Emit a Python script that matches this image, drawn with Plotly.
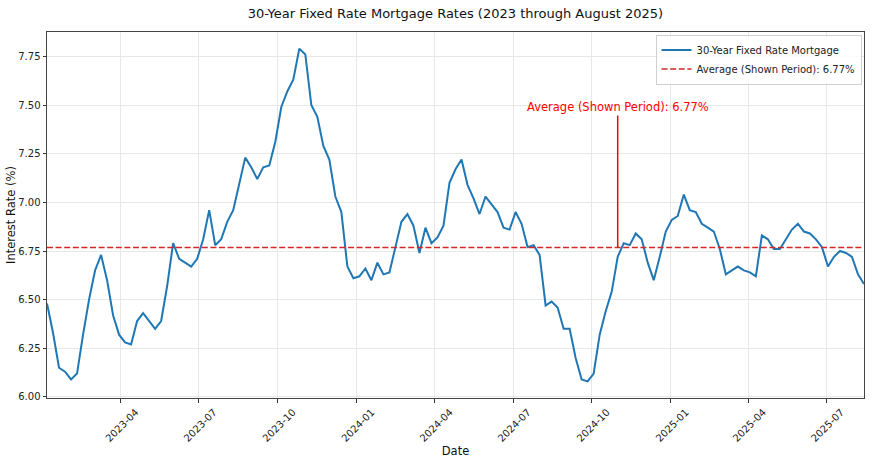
import pandas as pd
import numpy as np
import plotly.graph_objects as go

start_date = "2023-01-05"
rates = [
    # 2023
    6.48, 6.33, 6.15, 6.13, 6.09, 6.12, 6.32, 6.50, 6.65, 6.73, 6.60, 6.42, 6.32,
    6.28, 6.27, 6.39, 6.43, 6.39, 6.35, 6.39, 6.57, 6.79, 6.71, 6.69, 6.67, 6.71,
    6.81, 6.96, 6.78, 6.81, 6.90, 6.96, 7.09, 7.23, 7.18, 7.12, 7.18, 7.19, 7.31,
    7.49, 7.57, 7.63, 7.79, 7.76, 7.50, 7.44, 7.29, 7.22, 7.03, 6.95, 6.67, 6.61,
    # 2024
    6.62, 6.66, 6.60, 6.69, 6.63, 6.64, 6.77, 6.90, 6.94, 6.88, 6.74, 6.87, 6.79,
    6.82, 6.88, 7.10, 7.17, 7.22, 7.09, 7.02, 6.94, 7.03, 6.99, 6.95, 6.87, 6.86,
    6.95, 6.89, 6.77, 6.78, 6.73, 6.47, 6.49, 6.46, 6.35, 6.35, 6.20, 6.09, 6.08,
    6.12, 6.32, 6.44, 6.54, 6.72, 6.79, 6.78, 6.84, 6.81, 6.69, 6.60, 6.72, 6.85,
    # 2025
    6.91, 6.93, 7.04, 6.96, 6.95, 6.89, 6.87, 6.85, 6.76, 6.63, 6.65, 6.67, 6.65,
    6.64, 6.62, 6.83, 6.81, 6.76, 6.76, 6.81, 6.86, 6.89, 6.85, 6.84, 6.81, 6.77,
    6.67, 6.72, 6.75, 6.74, 6.72, 6.63, 6.58,
]
dates = pd.date_range(start_date, periods=len(rates), freq="7D")
date_str = [d.strftime("%Y-%m-%d") for d in dates]

tick_dates = ["2023-04-01", "2023-07-01", "2023-10-01", "2024-01-01", "2024-04-01",
              "2024-07-01", "2024-10-01", "2025-01-01", "2025-04-01", "2025-07-01"]
tick_labels = ["2023-04", "2023-07", "2023-10", "2024-01", "2024-04",
               "2024-07", "2024-10", "2025-01", "2025-04", "2025-07"]
y_ticks = [6.00, 6.25, 6.50, 6.75, 7.00, 7.25, 7.50, 7.75]

avg = float(np.mean(rates))
avg_label = f"Average (Shown Period): {avg:.2f}%"

FONT = "DejaVu Sans"
fig = go.Figure()
fig.add_trace(go.Scatter(
    x=date_str, y=rates, mode="lines", name="30-Year Fixed Rate Mortgage",
    line=dict(color="#1f77b4", width=2),
))
fig.add_trace(go.Scatter(
    x=[date_str[0], date_str[-1]], y=[avg, avg], mode="lines", name=avg_label,
    line=dict(color="#d62728", width=1.5, dash="6px,2.6px"),
))

ann_idx = int(len(rates) * 0.7)
fig.add_annotation(
    x=date_str[ann_idx], y=avg, xref="x", yref="y",
    ax=date_str[ann_idx], ay=7.49, axref="x", ayref="y",
    text=avg_label, showarrow=True, arrowhead=0, arrowwidth=1.5,
    arrowcolor="red", standoff=0,
    font=dict(family=FONT, size=11.5, color="red"),
)

ymin, ymax = min(rates), max(rates)
pad = (ymax - ymin) * 0.05

fig.update_layout(
    width=870, height=461,
    margin=dict(l=47, r=6, t=32, b=63, autoexpand=False),
    paper_bgcolor="white", plot_bgcolor="white",
    font=dict(family=FONT, size=10, color="#222"),
    title=dict(text="30-Year Fixed Rate Mortgage Rates (2023 through August 2025)",
               x=(47 + 864) / 2 / 870, xanchor="center", y=1 - 13 / 461, yanchor="middle",
               font=dict(family=FONT, size=13, color="#111")),
    showlegend=True,
    legend=dict(x=0.997, xanchor="right", y=0.993, yanchor="top",
                bgcolor="rgba(255,255,255,0.85)", bordercolor="#d0d0d0", borderwidth=1,
                font=dict(family=FONT, size=10, color="#222"), itemwidth=30,
                tracegroupgap=0),
)
fig.update_xaxes(
    type="date", range=[date_str[0], date_str[-1]], automargin=False,
    tickvals=tick_dates, ticktext=tick_labels, tickangle=-45,
    ticks="outside", ticklen=3.5, tickcolor="#333", tickwidth=0.8,
    ticklabelshift=15,
    showgrid=True, gridcolor="#e8e8e8", gridwidth=0.8,
    showline=True, linecolor="#444", linewidth=1, mirror=True,
    title=dict(text="Date", font=dict(family=FONT, size=11.5, color="#111"), standoff=0),
    zeroline=False,
)
fig.update_yaxes(
    range=[ymin - pad, ymax + pad], automargin=False,
    tickvals=y_ticks, tickformat=".2f",
    ticks="outside", ticklen=3.5, tickcolor="#333", tickwidth=0.8,
    showgrid=True, gridcolor="#e8e8e8", gridwidth=0.8,
    showline=True, linecolor="#444", linewidth=1, mirror=True,
    title=dict(text="Interest Rate (%)", font=dict(family=FONT, size=11.5, color="#111"), standoff=0),
    zeroline=False,
)

fig.write_html("out.html", config={"displayModeBar": False},
               post_script="document.body.style.margin='0';document.body.style.padding='0';")
